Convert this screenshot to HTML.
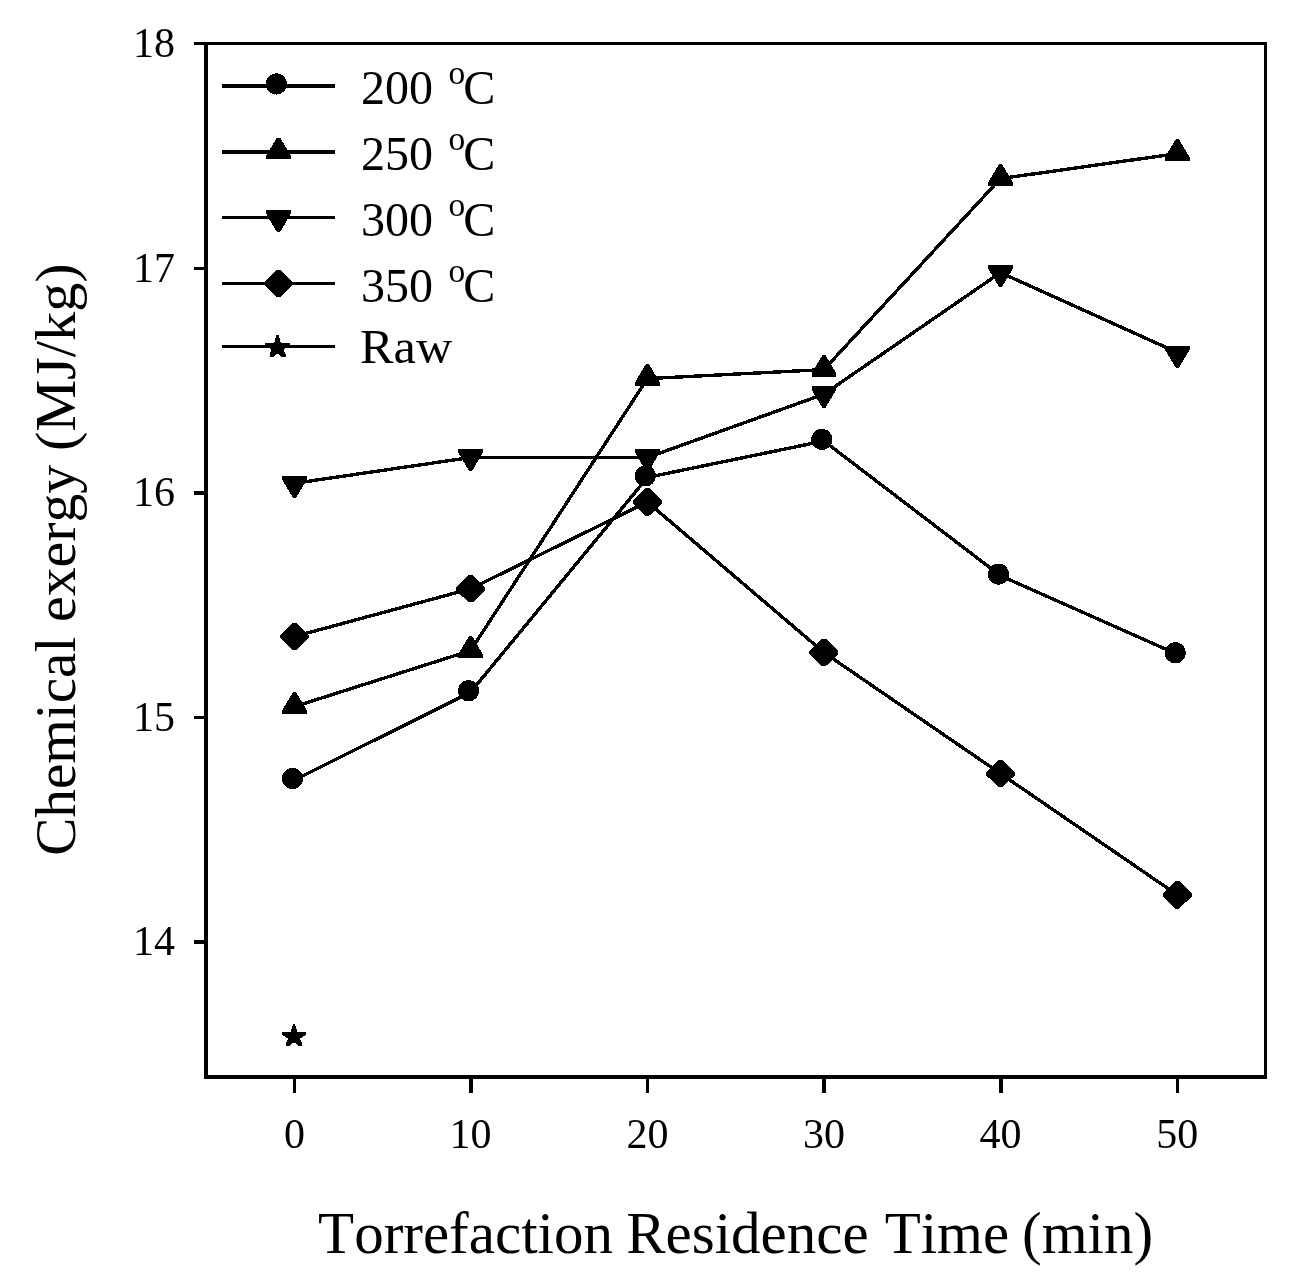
<!DOCTYPE html>
<html lang="en"><head><meta charset="utf-8"><title>Chemical exergy vs torrefaction residence time</title>
<style>
html,body{margin:0;padding:0;background:#fff}
svg{display:block}
text{font-family:"Liberation Serif","Times New Roman",Times,serif;fill:#000;font-kerning:none;font-variant-ligatures:none}
</style></head><body>
<svg width="1302" height="1281" viewBox="0 0 1302 1281" shape-rendering="crispEdges">
<rect width="1302" height="1281" fill="#fff"/>
<g fill="#000" shape-rendering="crispEdges">
<rect x="204" y="42" width="4" height="1037"/>
<rect x="1264" y="42" width="3" height="1037"/>
<rect x="194" y="42" width="1073" height="3"/>
<rect x="204" y="1075" width="1063" height="4"/>
<rect x="194" y="267" width="12" height="3"/>
<rect x="194" y="491" width="12" height="4"/>
<rect x="194" y="716" width="12" height="3"/>
<rect x="194" y="940" width="12" height="4"/>
<rect x="293" y="1077" width="3" height="16"/>
<rect x="469" y="1077" width="4" height="16"/>
<rect x="646" y="1077" width="3" height="16"/>
<rect x="822" y="1077" width="4" height="16"/>
<rect x="999" y="1077" width="4" height="16"/>
<rect x="1176" y="1077" width="3" height="16"/>
</g>
<g font-size="42" text-anchor="end">
<text x="175" y="954.9">14</text>
<text x="175" y="730.8">15</text>
<text x="175" y="506.4">16</text>
<text x="175" y="281.9">17</text>
<text x="175" y="57.0">18</text>
</g>
<g font-size="42" text-anchor="middle">
<text x="294.5" y="1148.2">0</text>
<text x="470.6" y="1148.2">10</text>
<text x="647.4" y="1148.2">20</text>
<text x="823.9" y="1148.2">30</text>
<text x="1000.5" y="1148.2">40</text>
<text x="1177.3" y="1148.2">50</text>
</g>
<text y="1253" font-size="59"><tspan x="318.1">Torrefaction</tspan> <tspan x="626.2">Residence</tspan> <tspan x="884.7">Time</tspan> <tspan x="1022">(min)</tspan></text>
<text transform="translate(74.8,853.8) rotate(-90)" font-size="57.8"><tspan x="-2" textLength="219.2" lengthAdjust="spacingAndGlyphs">Chemical</tspan> <tspan x="231.8">exergy</tspan> <tspan x="402.7" textLength="187.8" lengthAdjust="spacingAndGlyphs">(MJ/kg)</tspan></text>
<g fill="none" stroke="#000" stroke-width="3.4" stroke-linejoin="round">
<polyline points="294.5,780 470.6,692.2 647.4,477.4 823.9,441 1000.5,575.7 1177.3,654.3"/>
<polyline points="294.5,706.6 470.6,650.6 647.4,378.6 823.9,369.6 1000.5,178.6 1177.3,153.6"/>
<polyline points="294.5,483.3 470.6,457.5 647.4,457.5 823.9,394.2 1000.5,272.6 1177.3,352.5"/>
<polyline points="294.5,636.5 470.6,588.8 647.4,502 823.9,652.5 1000.5,773.6 1177.3,894.9"/>
</g>
<g fill="#000">
<circle cx="292.5" cy="778.5" r="10.6"/>
<circle cx="468.6" cy="690.7" r="10.6"/>
<circle cx="645.4" cy="475.9" r="10.6"/>
<circle cx="821.9" cy="439.5" r="10.6"/>
<circle cx="998.5" cy="574.2" r="10.6"/>
<circle cx="1175.3" cy="652.8" r="10.6"/>
<polygon points="282.1,714 306.9,714 306.9,710.4 296,692.1 293,692.1 282.1,710.4"/>
<polygon points="458.2,658 483,658 483,654.4 472.1,636.1 469.1,636.1 458.2,654.4"/>
<polygon points="635,386 659.8,386 659.8,382.4 648.9,364.1 645.9,364.1 635,382.4"/>
<polygon points="811.5,377 836.3,377 836.3,373.4 825.4,355.1 822.4,355.1 811.5,373.4"/>
<polygon points="988.1,186 1012.9,186 1012.9,182.4 1002,164.1 999,164.1 988.1,182.4"/>
<polygon points="1164.9,161 1189.7,161 1189.7,157.4 1178.8,139.1 1175.8,139.1 1164.9,157.4"/>
<polygon points="282.1,476 306.9,476 306.9,479.6 296,497.9 293,497.9 282.1,479.6"/>
<polygon points="458.2,449 483,449 483,452.6 472.1,470.9 469.1,470.9 458.2,452.6"/>
<polygon points="635,449 659.8,449 659.8,452.6 648.9,470.9 645.9,470.9 635,452.6"/>
<polygon points="811.5,386 836.3,386 836.3,389.6 825.4,407.9 822.4,407.9 811.5,389.6"/>
<polygon points="988.1,265 1012.9,265 1012.9,268.6 1002,286.9 999,286.9 988.1,268.6"/>
<polygon points="1164.9,346 1189.7,346 1189.7,349.6 1178.8,367.9 1175.8,367.9 1164.9,349.6"/>
<polygon points="292.5,622.9 296.5,622.9 309,635 309,638 296.5,650.1 292.5,650.1 280,638 280,635"/>
<polygon points="468.6,575.2 472.6,575.2 485.1,587.3 485.1,590.3 472.6,602.4 468.6,602.4 456.1,590.3 456.1,587.3"/>
<polygon points="645.4,488.4 649.4,488.4 661.9,500.5 661.9,503.5 649.4,515.6 645.4,515.6 632.9,503.5 632.9,500.5"/>
<polygon points="821.9,638.9 825.9,638.9 838.4,651 838.4,654 825.9,666.1 821.9,666.1 809.4,654 809.4,651"/>
<polygon points="998.5,760 1002.5,760 1015,772.1 1015,775.1 1002.5,787.2 998.5,787.2 986,775.1 986,772.1"/>
<polygon points="1175.3,881.3 1179.3,881.3 1191.8,893.4 1191.8,896.4 1179.3,908.5 1175.3,908.5 1162.8,896.4 1162.8,893.4"/>
<polygon points="294.9,1023.9 296.9,1030 297.3,1032.05 306.1,1032.05 306.1,1034.8 300.1,1038.6 302,1043 302,1045.9 298.3,1045.9 295.2,1042.8 292.8,1042.8 289.7,1045.9 286,1045.9 286,1043 287.9,1038.6 281.9,1034.8 281.9,1032.05 290.7,1032.05 291.1,1030 293.1,1023.9"/>
</g>
<g fill="#000">
<rect x="222" y="84" width="113" height="4"/>
<rect x="222" y="150" width="113" height="4"/>
<rect x="222" y="216" width="113" height="3"/>
<rect x="222" y="282" width="113" height="3"/>
<rect x="222" y="345" width="113" height="3"/>
<circle cx="276.5" cy="84" r="10.6"/>
<polygon points="266.1,159.4 290.9,159.4 290.9,155.8 280,137.5 277,137.5 266.1,155.8"/>
<polygon points="266.1,210.2 290.9,210.2 290.9,213.8 280,232.1 277,232.1 266.1,213.8"/>
<polygon points="276.5,269.9 280.5,269.9 293,282 293,285 280.5,297.1 276.5,297.1 264,285 264,282"/>
<polygon points="278.4,335 280.4,341.1 280.8,343.15 289.6,343.15 289.6,345.9 283.6,349.7 285.5,354.1 285.5,357 281.8,357 278.7,353.9 276.3,353.9 273.2,357 269.5,357 269.5,354.1 271.4,349.7 265.4,345.9 265.4,343.15 274.2,343.15 274.6,341.1 276.6,335"/>
</g>
<g font-size="48">
<text x="361" y="104.2">200 <tspan font-size="33.5" dx="3.4" dy="-20">o</tspan><tspan dx="-1.8" dy="20">C</tspan></text>
<text x="361" y="170.2">250 <tspan font-size="33.5" dx="3.4" dy="-20">o</tspan><tspan dx="-1.8" dy="20">C</tspan></text>
<text x="361" y="235.7">300 <tspan font-size="33.5" dx="3.4" dy="-20">o</tspan><tspan dx="-1.8" dy="20">C</tspan></text>
<text x="361" y="301.7">350 <tspan font-size="33.5" dx="3.4" dy="-20">o</tspan><tspan dx="-1.8" dy="20">C</tspan></text>
<text x="360" y="362.9" textLength="92.2" lengthAdjust="spacingAndGlyphs">Raw</text>
</g>
</svg></body></html>
